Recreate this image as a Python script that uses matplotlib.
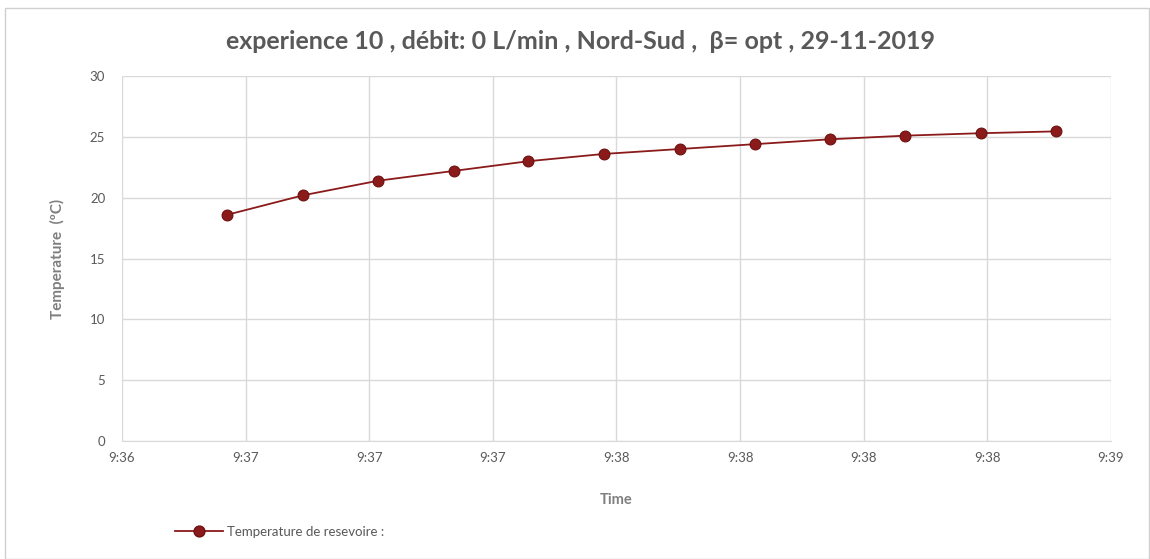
import matplotlib
matplotlib.use("Agg")
import matplotlib.pyplot as plt
from matplotlib.lines import Line2D
from matplotlib.patches import Rectangle

# Data: seconds after 9:36:00 and reservoir temperature (°C)
time_s = [19.2, 33.0, 46.7, 60.4, 74.0, 87.8, 101.5, 115.2, 128.9, 142.6, 156.3, 170.0]
temperature = [18.6, 20.2, 21.4, 22.2, 23.0, 23.6, 24.0, 24.4, 24.8, 25.1, 25.3, 25.45]
tick_pos = [0, 22.5, 45, 67.5, 90, 112.5, 135, 157.5, 180]
tick_labels = ["9:36", "9:37", "9:37", "9:37", "9:38", "9:38", "9:38", "9:38", "9:39"]
y_ticks = [0, 5, 10, 15, 20, 25, 30]
series_name = "Temperature de resevoire :"
title = "experience 10 , débit: 0 L/min , Nord-Sud ,  β= opt , 29-11-2019"

plt.rcParams['font.family'] = ['Lato', 'DejaVu Sans']
GRAY = "#595959"
GRID = "#D9D9D9"
RED = "#8B1A1A"

fig = plt.figure(figsize=(11.5, 5.59), dpi=100)
fig.patches.append(Rectangle((0.004, 0.0), 0.995, 0.985, transform=fig.transFigure,
                             fill=False, edgecolor="#D0D0D0", linewidth=1.0))
ax = fig.add_axes([0.106, 0.211, 0.860, 0.653])

ax.plot(time_s, temperature, color=RED, linewidth=1.3, marker="o", markersize=7.8,
        markerfacecolor=RED, markeredgecolor="#6E1010", markeredgewidth=0.8, zorder=3)

ax.set_xlim(0, 180)
ax.set_ylim(0, 30)
ax.set_xticks(tick_pos)
ax.set_xticklabels(tick_labels)
ax.set_yticks(y_ticks)
ax.grid(True, color=GRID, linewidth=1.0)
ax.set_axisbelow(True)
for s in ["top", "right", "left"]:
    ax.spines[s].set_visible(False)
ax.spines["bottom"].set_color(GRID)
ax.tick_params(axis="both", length=0, labelsize=9.5, colors=GRAY, pad=8)
ax.tick_params(axis="y", pad=12)

ax.set_xlabel("Time", fontsize=10.5, fontweight="bold", color="#7F7F7F", labelpad=21)
ax.set_ylabel("Temperature  (ºC)", fontsize=11, fontweight="bold", color="#7F7F7F", labelpad=18)

fig.text(0.505, 0.926, title, ha="center", va="center", fontsize=18, fontweight="bold", color=GRAY)

handle = Line2D([0], [0], color=RED, linewidth=1.3, marker="o", markersize=7.8,
                markerfacecolor=RED, markeredgecolor="#6E1010")
fig.legend([handle], [series_name], loc="center left", bbox_to_anchor=(0.142, 0.049),
           frameon=False, fontsize=9.5, labelcolor=GRAY, handlelength=3.6, handletextpad=0.3)

fig.savefig("out.png", dpi=100, facecolor="white")
